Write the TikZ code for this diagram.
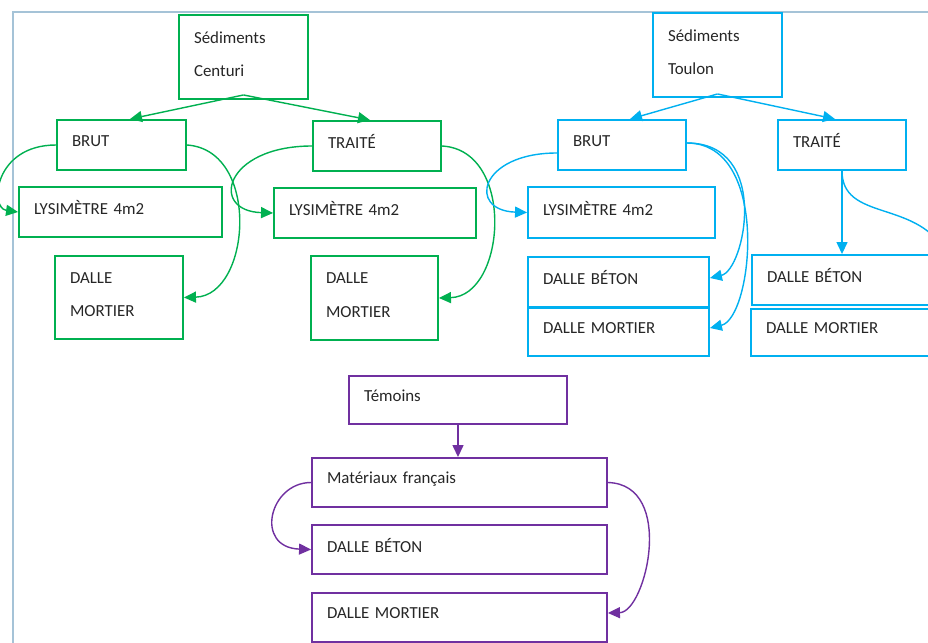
\documentclass[tikz,border=0pt]{standalone}
\usepackage{fontspec}
\setmainfont{Carlito}
\usepackage{xcolor}
\usetikzlibrary{arrows.meta}

\definecolor{centgreen}{RGB}{0,176,80}
\definecolor{toulblue}{RGB}{0,176,240}
\definecolor{temopurple}{RGB}{112,48,160}
\definecolor{framegray}{RGB}{165,195,215}

\tikzset{
  box/.style={draw, line width=1.1pt, rectangle, align=left, inner xsep=0.3cm,
    text depth=5pt, text=black!85, font=\fontsize{9.6pt}{11.5pt}\selectfont},
  twoline/.style={text depth=22.5pt},
  gbox/.style={box, draw=centgreen},
  bbox/.style={box, draw=toulblue},
  pbox/.style={box, draw=temopurple},
  link/.style={line width=0.8pt, -{Triangle[length=0.24cm,width=0.22cm]}},
  glink/.style={link, draw=centgreen},
  blink/.style={link, draw=toulblue},
  plink/.style={link, draw=temopurple}
}

\begin{document}
\begin{tikzpicture}[x=0.02cm, y=-0.02cm]
  \clip (0,0) rectangle (928,642);
  \draw[framegray, line width=0.6pt] (13,700) -- (13,12) -- (1000,12);

  % Centuri
  \node (cent) at (243.5,57) [gbox, twoline, minimum width=2.58cm, minimum height=1.68cm, text width=1.98cm] {Sédiments\\[7.5pt]Centuri};
  \node (gbrut) at (121.5,145) [gbox, minimum width=2.58cm, minimum height=1cm, text width=1.98cm] {BRUT};
  \node (gtrait) at (377,146) [gbox, minimum width=2.56cm, minimum height=1cm, text width=1.96cm] {TRAITÉ};
  \node (glys1) at (120.5,212) [gbox, minimum width=4.06cm, minimum height=1cm, text width=3.46cm] {LYSIMÈTRE 4m2};
  \node (glys2) at (375,213) [gbox, minimum width=4.04cm, minimum height=1cm, text width=3.44cm] {LYSIMÈTRE 4m2};
  \node (gdal1) at (119,297.5) [gbox, twoline, minimum width=2.56cm, minimum height=1.66cm, text width=1.96cm] {DALLE\\[7.5pt]MORTIER};
  \node (gdal2) at (374.5,298) [gbox, twoline, minimum width=2.54cm, minimum height=1.68cm, text width=1.94cm] {DALLE\\[7.5pt]MORTIER};

  \draw[glink] ([yshift=0.1cm]cent.south) -- ([xshift=0.17cm]gbrut.north);
  \draw[glink] ([yshift=0.1cm]cent.south) -- ([xshift=-0.14cm]gtrait.north);
  \draw[glink] (gbrut.west) .. controls +(-62,0) and +(-29,-4) .. (glys1.west);
  \draw[glink] (gbrut.east) .. controls +(74,5) and +(67,-2) .. (gdal1.east);
  \draw[glink] (gtrait.west) .. controls +(-88,0) and +(-64,-2) .. (glys2.west);
  \draw[glink] (gtrait.east) .. controls +(74,4) and +(67,-2) .. (gdal2.east);

  % Toulon
  \node (toul) at (717.5,55) [bbox, twoline, minimum width=2.58cm, minimum height=1.68cm, text width=1.98cm] {Sédiments\\[7.5pt]Toulon};
  \node (bbrut) at (622,145) [bbox, minimum width=2.56cm, minimum height=1cm, text width=1.96cm] {BRUT};
  \node (btrait) at (842,145) [bbox, minimum width=2.56cm, minimum height=1cm, text width=1.96cm] {TRAITÉ};
  \node (blys) at (621.5,212.5) [bbox, minimum width=3.74cm, minimum height=1.02cm, text width=3.14cm] {LYSIMÈTRE 4m2};
  \node (bbet1) at (618.5,282) [bbox, minimum width=3.62cm, minimum height=1cm, text width=3.02cm] {DALLE BÉTON};
  \node (bmor1) at (618.5,332) [bbox, minimum width=3.62cm, minimum height=0.96cm, text width=3.02cm] {DALLE MORTIER};
  \node (bbet2) at (857,280) [bbox, minimum width=4.2cm, minimum height=1cm, text width=3.6cm] {DALLE BÉTON};
  \node (bmor2) at (856,332.5) [bbox, minimum width=4.2cm, minimum height=0.94cm, text width=3.6cm] {DALLE MORTIER};
  \coordinate (tout) at (950,260);

  \draw[blink] ([yshift=0.08cm]toul.south) -- ([xshift=0.16cm]bbrut.north);
  \draw[blink] ([yshift=0.08cm]toul.south) -- ([xshift=-0.14cm]btrait.north);
  \draw[blink] ([yshift=-0.16cm]bbrut.west) .. controls +(-78,0) and +(-60,-2) .. (blys.west);
  \draw[blink] ([yshift=0.04cm]bbrut.east) .. controls +(84,0) and +(35,-8) .. ([yshift=0.08cm]bbet1.east);
  \draw[blink] ([yshift=0.04cm]bbrut.east) .. controls +(84,0) and +(43,-10) .. ([yshift=0.08cm]bmor1.east);
  \draw[blink] (btrait.south) -- (btrait.south |- bbet2.north);
  \draw[blink] (btrait.south) .. controls +(0,50) and +(-35,-60) .. (tout);

  % Temoins
  \node (temo) at (458,400) [pbox, minimum width=4.36cm, minimum height=0.96cm, text width=3.76cm] {Témoins};
  \node (pmat) at (459.5,482.5) [pbox, minimum width=5.9cm, minimum height=0.98cm, text width=5.3cm] {Matériaux français};
  \node (pbet) at (459.5,549.5) [pbox, minimum width=5.9cm, minimum height=0.98cm, text width=5.3cm] {DALLE BÉTON};
  \node (pmor) at (459.5,617.5) [pbox, minimum width=5.9cm, minimum height=0.98cm, text width=5.3cm] {DALLE MORTIER};

  \draw[plink] (temo.south) -- (temo.south |- pmat.north);
  \draw[plink] (pmat.west) .. controls +(-42,0) and +(-57,-2) .. (pbet.west);
  \draw[plink] (pmat.east) .. controls +(68,2) and +(38,-1) .. ([yshift=0.09cm]pmor.east);
\end{tikzpicture}
\end{document}
